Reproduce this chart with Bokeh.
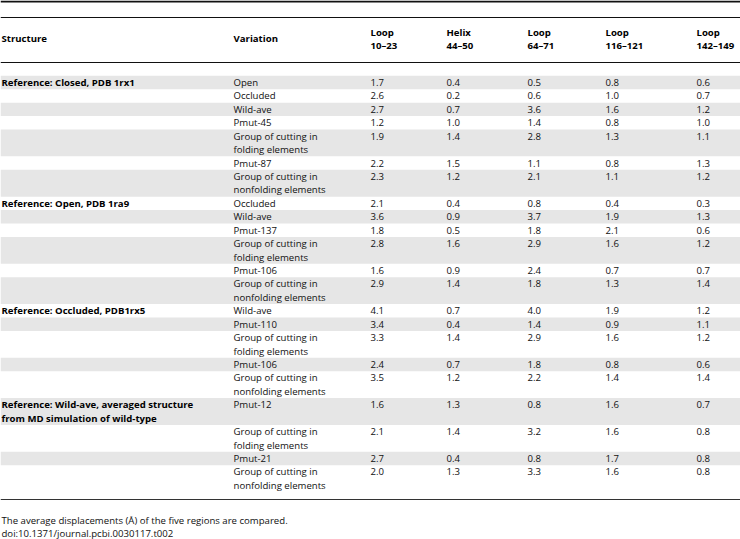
from bokeh.plotting import figure
from bokeh.models import ColumnDataSource, Range1d
from bokeh.embed import file_html
from bokeh.resources import INLINE
from bokeh.core.properties import value

# ---------------- data ----------------
structure_labels = [
    "Reference: Closed, PDB 1rx1",
    "Reference: Open, PDB 1ra9",
    "Reference: Occluded, PDB1rx5",
    "Reference: Wild-ave, averaged structure\nfrom MD simulation of wild-type",
]
FOLD = "Group of cutting in\nfolding elements"
NONFOLD = "Group of cutting in\nnonfolding elements"
variations_closed = ["Open", "Occluded", "Wild-ave", "Pmut-45", FOLD, "Pmut-87", NONFOLD]
variations_open = ["Occluded", "Wild-ave", "Pmut-137", FOLD, "Pmut-106", NONFOLD]
variations_occluded = ["Wild-ave", "Pmut-110", FOLD, "Pmut-106", NONFOLD]
variations_wildave = ["Pmut-12", FOLD, "Pmut-21", NONFOLD]
variation_groups = [variations_closed, variations_open, variations_occluded, variations_wildave]

column_headers = ["Loop\n10\u201323", "Helix\n44\u201350", "Loop\n64\u201371", "Loop\n116\u2013121", "Loop\n142\u2013149"]
loop_10_23 = [1.7, 2.6, 2.7, 1.2, 1.9, 2.2, 2.3, 2.1, 3.6, 1.8, 2.8, 1.6, 2.9, 4.1, 3.4, 3.3, 2.4, 3.5, 1.6, 2.1, 2.7, 2.0]
helix_44_50 = [0.4, 0.2, 0.7, 1.0, 1.4, 1.5, 1.2, 0.4, 0.9, 0.5, 1.6, 0.9, 1.4, 0.7, 0.4, 1.4, 0.7, 1.2, 1.3, 1.4, 0.4, 1.3]
loop_64_71 = [0.5, 0.6, 3.6, 1.4, 2.8, 1.1, 2.1, 0.8, 3.7, 1.8, 2.9, 2.4, 1.8, 4.0, 1.4, 2.9, 1.8, 2.2, 0.8, 3.2, 0.8, 3.3]
loop_116_121 = [0.8, 1.0, 1.6, 0.8, 1.3, 0.8, 1.1, 0.4, 1.9, 2.1, 1.6, 0.7, 1.3, 1.9, 0.9, 1.6, 0.8, 1.4, 1.6, 1.6, 1.7, 1.6]
loop_142_149 = [0.6, 0.7, 1.2, 1.0, 1.1, 1.3, 1.2, 0.3, 1.3, 0.6, 1.2, 0.7, 1.4, 1.2, 1.1, 1.2, 0.6, 1.4, 0.7, 0.8, 0.8, 0.8]
value_columns = [loop_10_23, helix_44_50, loop_64_71, loop_116_121, loop_142_149]

footnotes = ["The average displacements (\u00c5) of the five regions are compared.",
             "doi:10.1371/journal.pcbi.0030117.t002"]

# ---------------- layout ----------------
W, H = 740, 539
X_STRUCT, X_VAR = 1, 233
X_COLS = [370, 446, 527, 605, 696]
FIRST_Y, PITCH = 82, 13.43
FONT = value("Open Sans")
FS = "9.6px"
TXT = "#111111"
SHADE = "#e6e6e6"

p = figure(width=W, height=H, output_backend="svg", toolbar_location=None,
           x_range=Range1d(0, W), y_range=Range1d(H, 0), min_border=0)
p.axis.visible = False
p.grid.visible = False
p.outline_line_color = None
p.background_fill_color = "white"

# rows
rows = []
line = 0
for struct, group in zip(structure_labels, variation_groups):
    for i, var in enumerate(group):
        n = len(var.split("\n"))
        if i == 0:
            n = max(n, len(struct.split("\n")))
        rows.append(dict(line=line, n=n, struct=struct if i == 0 else None, var=var))
        line += n

# shading
sh = dict(left=[], right=[], top=[], bottom=[])
for k, r in enumerate(rows):
    if k % 2 == 0:
        sh["left"].append(0)
        sh["right"].append(W)
        sh["top"].append(FIRST_Y + r["line"] * PITCH - PITCH / 2)
        sh["bottom"].append(FIRST_Y + (r["line"] + r["n"] - 1) * PITCH + PITCH / 2)
p.quad(source=ColumnDataSource(sh), left="left", right="right", top="top", bottom="bottom",
       fill_color=SHADE, line_color=None)

# text cells
reg = dict(x=[], y=[], t=[])
bold = dict(x=[], y=[], t=[])
for k, r in enumerate(rows):
    y0 = FIRST_Y + r["line"] * PITCH
    for j, s in enumerate(r["var"].split("\n")):
        reg["x"].append(X_VAR); reg["y"].append(y0 + j * PITCH); reg["t"].append(s)
    if r["struct"]:
        for j, s in enumerate(r["struct"].split("\n")):
            bold["x"].append(X_STRUCT); bold["y"].append(y0 + j * PITCH); bold["t"].append(s)
    for c, col in enumerate(value_columns):
        reg["x"].append(X_COLS[c]); reg["y"].append(y0); reg["t"].append("%.1f" % col[k])

# header
hdr = dict(x=[X_STRUCT, X_VAR], y=[38, 38], t=["Structure", "Variation"])
for c, h in enumerate(column_headers):
    for j, s in enumerate(h.split("\n")):
        hdr["x"].append(X_COLS[c]); hdr["y"].append(31.5 + j * 13.5); hdr["t"].append(s)
for key in hdr:
    bold[key] += hdr[key]

# footnotes
for j, s in enumerate(footnotes):
    reg["x"].append(X_STRUCT); reg["y"].append(519.5 + j * 13.2); reg["t"].append(s)

p.text(source=ColumnDataSource(reg), x="x", y="y", text="t", text_font=FONT,
       text_font_size=FS, text_baseline="middle", text_align="left", text_color=TXT)
p.text(source=ColumnDataSource(bold), x="x", y="y", text="t", text_font=FONT,
       text_font_size=FS, text_font_style="bold", text_baseline="middle",
       text_align="left", text_color="#000000")

# rules
p.segment(x0=[0, 0, 0, 0], x1=[W, W, W, W], y0=[1, 17, 62, 499], y1=[1, 17, 62, 499],
          line_color=["#111111", "#111111", "#111111", "#333333"], line_width=[2, 1, 1, 1])

open("out.html", "w").write(file_html(p, INLINE))
